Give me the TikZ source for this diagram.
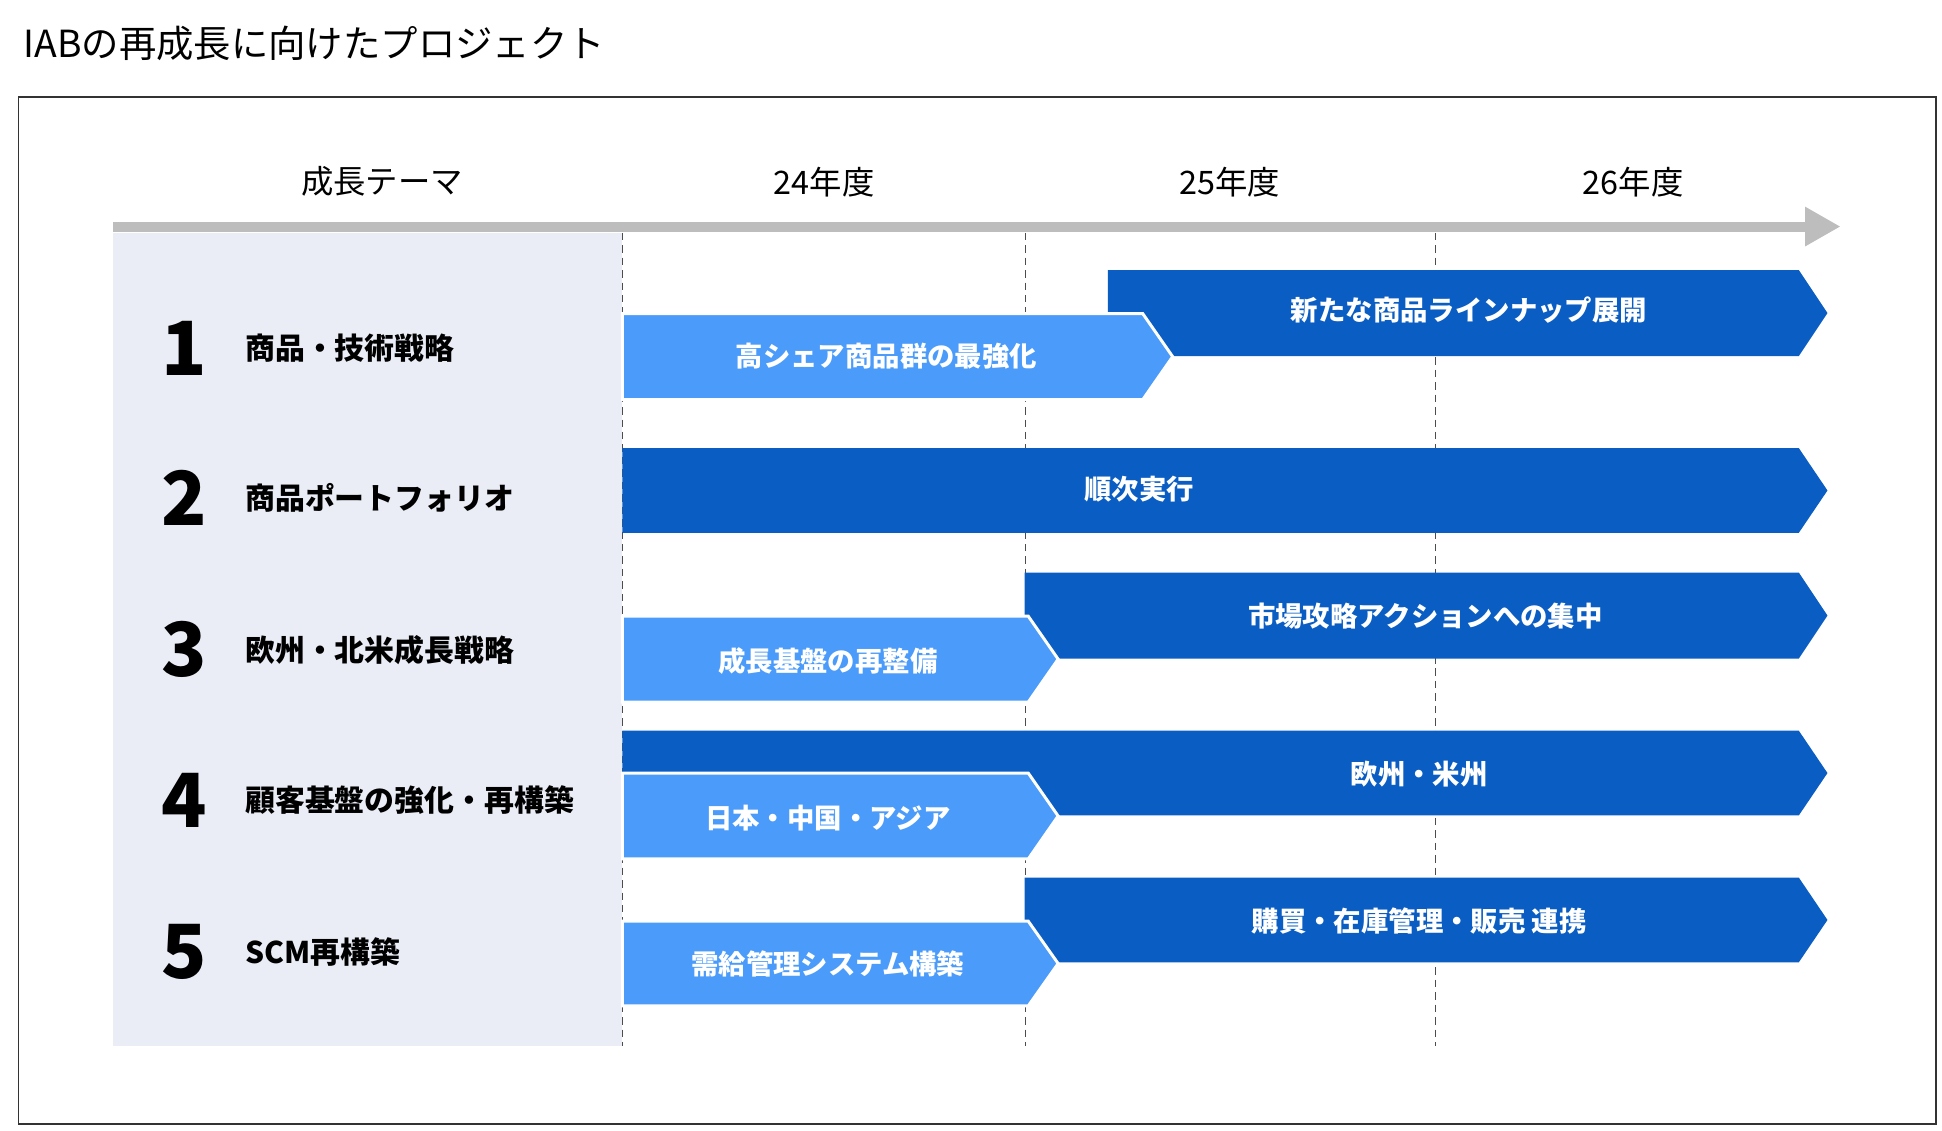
\documentclass[tikz,border=0pt]{standalone}
\usepackage{fontspec}
\setmainfont{Noto Sans CJK JP}
\definecolor{lb}{HTML}{4A9BFA}
\definecolor{db}{HTML}{0A5DC2}
\definecolor{pane}{HTML}{EAEDF6}
\definecolor{axis}{HTML}{BDBDBD}
\begin{document}
\begin{tikzpicture}[x=0.5pt,y=-0.5pt,
  bartxt/.style={text=white,font=\fontsize{11}{13}\selectfont\bfseries},
  hdr/.style={font=\fontsize{13}{15}\selectfont},
  num/.style={font=\fontsize{30}{32}\selectfont\bfseries},
  lab/.style={anchor=west,font=\fontsize{12}{14}\selectfont\bfseries},
  dl/.style={densely dashed,black!70,line width=0.5pt}]
\useasboundingbox (0,0) rectangle (1560,908);
\node[anchor=west,font=\fontsize{15}{17}\selectfont] (title) at (12,35) {IABの再成長に向けたプロジェクト};
\draw[black!80,line width=0.6pt] (15,78) rectangle (1555,903);
\fill[pane] (91,187) rectangle (500,840);
\foreach \x in {500,824,1153} \draw[dl] (\x,187) -- (\x,840);
\fill[axis] (91,178) rectangle (1450,186);
\fill[axis] (1450,166) -- (1478,182) -- (1450,198) -- cycle;
\node[hdr] (h0) at (307,146) {成長テーマ};
\node[hdr] (h1) at (662,146) {24年度};
\node[hdr] (h2) at (988,146) {25年度};
\node[hdr] (h3) at (1312,146) {26年度};
% rows
\foreach \n/\y/\t in {1/280/商品・技術戦略,2/400/商品ポートフォリオ,3/522/欧州・北米成長戦略,4/643/顧客基盤の強化・再構築,5/765/SCM再構築}{
  \node[num] (n\n) at (148,\y) {\n};
  \node[lab] (l\n) at (190,\y) {\t};
}
% bar macro: x1,x2,top,bottom
\newcommand{\darkbar}[4]{\fill[db] (#1,#3) -- (#2,#3) -- ({#2+23},{(#3+#4)/2}) -- (#2,#4) -- (#1,#4) -- cycle;}
\newcommand{\lightbar}[4]{\filldraw[fill=lb,draw=white,line width=1.2pt] (#1,#3) -- (#2,#3) -- ({#2+24},{(#3+#4)/2}) -- (#2,#4) -- (#1,#4) -- cycle;}
\darkbar{890}{1445}{217}{286}
\lightbar{500}{918}{252}{321}
\darkbar{500}{1445}{360}{428}
\darkbar{823}{1445}{460}{529}
\lightbar{500}{826}{495}{564}
\darkbar{500}{1445}{587}{655}
\lightbar{500}{826}{621}{690}
\darkbar{823}{1445}{705}{773}
\lightbar{500}{826}{740}{808}
\node[bartxt] (b1d) at (1180,249) {新たな商品ラインナップ展開};
\node[bartxt] (b1l) at (712,286) {高シェア商品群の最強化};
\node[bartxt] (b2d) at (915,393) {順次実行};
\node[bartxt] (b3d) at (1145,495) {市場攻略アクションへの集中};
\node[bartxt] (b3l) at (665,531) {成長基盤の再整備};
\node[bartxt] (b4d) at (1140,622) {欧州・米州};
\node[bartxt] (b4l) at (665,657) {日本・中国・アジア};
\node[bartxt] (b5d) at (1140,740) {購買・在庫管理・販売 連携};
\node[bartxt] (b5l) at (665,774) {需給管理システム構築};
\end{tikzpicture}
\end{document}
